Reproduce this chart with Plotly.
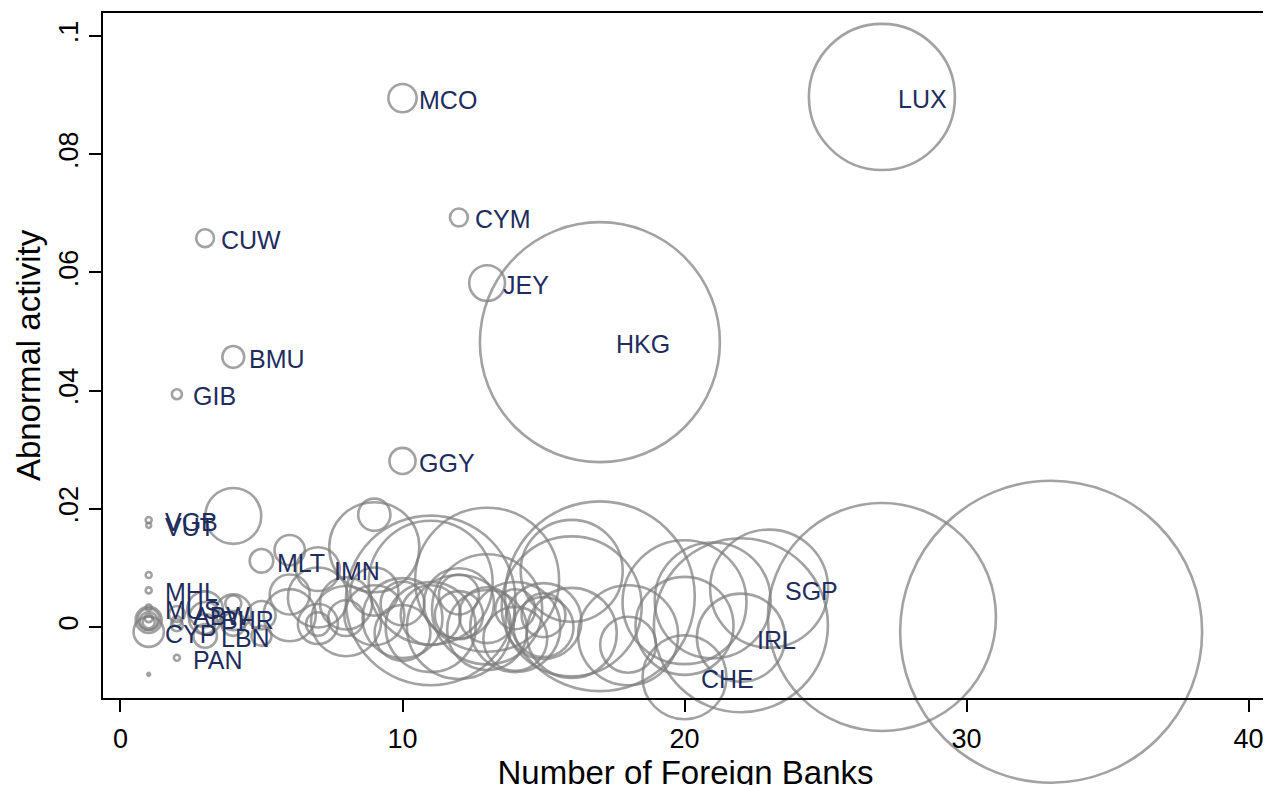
import plotly.graph_objects as go

# ---- data ----
country = ["LUX", "MCO", "CYM", "CUW", "JEY", "HKG", "BMU", "GIB", "GGY",
           "VGB", "VUT", "MLT", "IMN", "MHL", "MUS", "CYP", "ABW", "PAN",
           "BHR", "LBN", "SGP", "IRL", "CHE",
           "", "", "", "", "", "", "", "", "", "", "", "", "", "", "", "",
           "", "", "", "", "", "", "", "", "", "", "", "", "", "", "", "",
           "", "", "", "", "", "", "", "", "", "", "", "", "", "", "", "",
           "", "", "", "", "", "", "", "", "", "", "", ""]
foreign_banks = [27, 10, 12, 3, 13, 17, 4, 2, 10,
                 1, 1, 5, 7, 1, 1, 1, 2, 2,
                 3, 3, 23, 22, 20,
                 1, 1, 1, 1, 1, 1, 2, 2,
                 3, 3, 4, 4, 4, 4, 5, 5,
                 6, 6, 6, 7, 7, 7, 8, 8,
                 8, 9, 9, 9, 9, 10, 10, 10,
                 11, 11, 11, 11, 12, 12, 12, 12,
                 13, 13, 13, 13, 14, 14, 14, 15,
                 15, 15, 16, 16, 16, 17, 18, 18, 20, 20, 21, 22, 27, 33, 1]
abnormal = [0.0897, 0.0895, 0.0693, 0.0658, 0.0582, 0.0482, 0.0457, 0.0394, 0.0281,
            0.0181, 0.0172, 0.0112, 0.0098, 0.0062, 0.0033, -0.0008, 0.0022, -0.0052,
            0.0015, -0.0015, 0.0065, -0.0018, -0.0085,
            0.0088, -0.0080, 0.0012, 0.0010, 0.0008, 0.0015, 0.0010, 0.0003,
            0.0030, 0.0005, 0.0188, 0.0025, 0.0005, 0.0040, 0.0020, -0.0015,
            0.0130, 0.0055, 0.0020, 0.0005, 0.0005, 0.0050, 0.0010, 0.0040,
            0.0015, 0.0190, 0.0135, 0.0060, 0.0020, 0.0015, 0.0040, -0.0010,
            0.0045, 0.0000, 0.0020, 0.0075, 0.0040, 0.0000, 0.0020, 0.0055,
            0.0080, 0.0030, -0.0005, 0.0020, 0.0000, -0.0020, 0.0030, 0.0000,
            0.0020, 0.0010, 0.0095, 0.0035, -0.0010, 0.0052, -0.0030, -0.0014,
            0.0042, 0.0002, 0.0045, 0.0003, 0.0017, -0.0008, 0.0013]
assets = [53.3, 2.0, 0.8, 0.8, 3.2, 144.0, 1.2, 0.25, 1.7,
          0.09, 0.06, 1.4, 4.8, 0.09, 0.09, 2.3, 0.64, 0.09,
          2.6, 1.4, 34.8, 19.4, 17.6,
          0.09, 0.02, 1.7, 0.8, 0.36, 0.16, 0.25, 0.36,
          3.2, 1.0, 7.8, 3.2, 1.4, 0.64, 2.0, 1.0,
          2.3, 4.0, 6.8, 1.4, 4.0, 9.0, 12.3, 6.8,
          3.2, 2.6, 20.3, 5.8, 9.0, 16.0, 4.8, 7.8,
          72.0, 20.3, 9.0, 38.4, 12.3, 27.0, 5.8, 4.0,
          51.8, 30.3, 16.0, 7.8, 20.3, 10.2, 4.0, 9.0,
          4.8, 14.4, 26.0, 49.0, 20.3, 90.0, 7.8, 25.0,
          38.4, 24.0, 33.6, 75.7, 130.0, 228.0, 1.2]
x_ticks = [0, 10, 20, 30, 40]
y_ticks = [0, 0.02, 0.04, 0.06, 0.08, 0.1]
y_ticktext = ["0", ".02", ".04", ".06", ".08", ".1"]

FONT = "Arial, Liberation Sans, sans-serif"
MAX_DIAM = 302

fig = go.Figure()
fig.add_trace(go.Scatter(
    x=foreign_banks, y=abnormal, mode="markers",
    marker=dict(size=assets, sizemode="area",
                sizeref=2.0 * max(assets) / (MAX_DIAM ** 2),
                color="rgba(0,0,0,0)",
                line=dict(color="#7c7c7c", width=2.6)),
    cliponaxis=False, hoverinfo="skip", showlegend=False))

for c, xv, yv in zip(country, foreign_banks, abnormal):
    if c:
        fig.add_annotation(x=xv, y=yv, text=c, showarrow=False,
                           xanchor="left", yanchor="middle", xshift=14, yshift=-2,
                           font=dict(family=FONT, size=25, color="#1e2d5e"))

axis_common = dict(showline=True, linecolor="black", linewidth=2, mirror=True,
                   ticks="outside", ticklen=12, tickwidth=2, tickcolor="black",
                   showgrid=False, zeroline=False, automargin=False,
                   tickfont=dict(family=FONT, size=27, color="black"))

# the page body adds an 8px offset, so margins are shifted to compensate
fig.update_layout(
    width=1271, height=785,
    margin=dict(l=95, r=11, t=5, b=95),
    paper_bgcolor="white", plot_bgcolor="white",
    xaxis=dict(range=[-0.62, 40.69], tickvals=x_ticks, ticklabelstandoff=4,
               title=dict(text="Number of Foreign Banks", standoff=5,
                          font=dict(family=FONT, size=33, color="black")),
               **axis_common),
    yaxis=dict(range=[-0.01201, 0.1039], tickvals=y_ticks, ticktext=y_ticktext,
               tickangle=-90,
               title=dict(text="Abnormal activity", standoff=4,
                          font=dict(family=FONT, size=33, color="black")),
               **axis_common),
)

fig.write_html("out.html")
